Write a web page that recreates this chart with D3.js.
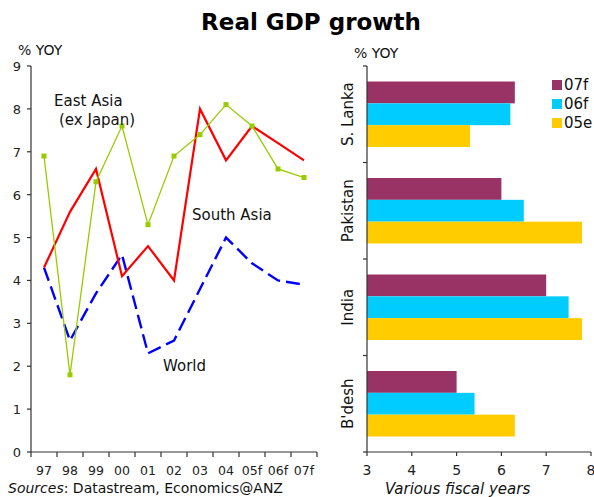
<!DOCTYPE html>
<html>
<head>
<meta charset="utf-8">
<script src="https://cdn.jsdelivr.net/npm/d3@7"></script>
<style>
  html, body { margin: 0; padding: 0; background: #fff; }
  svg { display: block; font-family: "DejaVu Sans", Verdana, sans-serif; }
</style>
</head>
<body>
<svg id="chart" width="594" height="497"></svg>
<script>
// ---- Data ----
const years = ["97","98","99","00","01","02","03","04","05f","06f","07f"];
const eastAsia  = [6.9, 1.8, 6.3, 7.6, 5.3, 6.9, 7.4, 8.1, 7.6, 6.6, 6.4];
const southAsia = [4.3, 5.6, 6.6, 4.1, 4.8, 4.0, 8.0, 6.8, 7.6, 7.2, 6.8];
const world     = [4.3, 2.6, 3.7, 4.6, 2.3, 2.6, 3.8, 5.0, 4.4, 4.0, 3.9];
const leftTicks = [0,1,2,3,4,5,6,7,8,9];

const countries = ["S. Lanka", "Pakistan", "India", "B'desh"];
const seriesNames = ["07f", "06f", "05e"];
const fy07 = [6.3, 6.0, 7.0, 5.0];
const fy06 = [6.2, 6.5, 7.5, 5.4];
const fy05 = [5.3, 7.8, 7.8, 6.3];
const rightTicks = [3,4,5,6,7,8];

const seriesColors = ["#993366", "#00CCFF", "#FFCC00"];

const svg = d3.select("#chart");
const axisColor = "#333";

// Title
svg.append("text").attr("x", 311).attr("y", 30).attr("text-anchor", "middle")
  .attr("font-size", 23).attr("font-weight", "bold").attr("fill", "#000").text("Real GDP growth");

// ---- Left chart ----
const xL = d3.scaleBand().domain(years).range([31, 317]).padding(0);
const yL = d3.scaleLinear().domain([0, 9]).range([452, 66]);

const gL = svg.append("g");
gL.append("line").attr("x1", 31).attr("x2", 31).attr("y1", yL(9)).attr("y2", yL(0))
  .attr("stroke", axisColor).attr("stroke-width", 1.2);
leftTicks.forEach(t => {
  gL.append("line").attr("x1", 27).attr("x2", 31).attr("y1", yL(t)).attr("y2", yL(t))
    .attr("stroke", axisColor).attr("stroke-width", 1.2);
  gL.append("text").attr("x", 21).attr("y", yL(t) + 5).attr("text-anchor", "end")
    .attr("font-size", 13).attr("fill", "#222").text(t);
});
gL.append("line").attr("x1", 31).attr("x2", 317).attr("y1", yL(0)).attr("y2", yL(0))
  .attr("stroke", axisColor).attr("stroke-width", 1.2);
years.forEach((c, i) => {
  const x0 = xL(c);
  gL.append("line").attr("x1", x0).attr("x2", x0).attr("y1", yL(0)).attr("y2", yL(0) + 5)
    .attr("stroke", axisColor).attr("stroke-width", 1.2);
  gL.append("text").attr("x", x0 + xL.bandwidth() / 2).attr("y", 475).attr("text-anchor", "middle")
    .attr("font-size", 12.5).attr("fill", "#222").text(c);
});
gL.append("line").attr("x1", 317).attr("x2", 317).attr("y1", yL(0)).attr("y2", yL(0) + 5)
  .attr("stroke", axisColor).attr("stroke-width", 1.2);

const cx = c => xL(c) + xL.bandwidth() / 2;
const lineGen = d3.line().x((d, i) => cx(years[i])).y(d => yL(d));

gL.append("path").attr("d", lineGen(world)).attr("fill", "none")
  .attr("stroke", "#0000FF").attr("stroke-width", 2.4).attr("stroke-dasharray", "14,6");
gL.append("path").attr("d", lineGen(southAsia)).attr("fill", "none")
  .attr("stroke", "#FF0000").attr("stroke-width", 2.2);
gL.append("path").attr("d", lineGen(eastAsia)).attr("fill", "none")
  .attr("stroke", "#99CC00").attr("stroke-width", 1.3);
gL.selectAll("rect.m").data(eastAsia).enter().append("rect")
  .attr("x", (d, i) => cx(years[i]) - 2.5).attr("y", d => yL(d) - 2.5)
  .attr("width", 5).attr("height", 5).attr("fill", "#99CC00");

const lbl = (x, y, t) => svg.append("text").attr("x", x).attr("y", y)
  .attr("font-size", 15).attr("fill", "#111").text(t);
lbl(54, 106, "East Asia");
lbl(59, 125, "(ex Japan)");
lbl(192, 220, "South Asia");
lbl(163, 371, "World");
svg.append("text").attr("x", 18).attr("y", 55).attr("font-size", 14).attr("fill", "#111").text("% YOY");

svg.append("text").attr("x", 8).attr("y", 493).attr("font-size", 14).attr("fill", "#111")
  .call(t => {
    t.append("tspan").attr("font-style", "italic").text("Sources");
    t.append("tspan").text(": Datastream, Economics@ANZ");
  });

// ---- Right chart ----
const xR = d3.scaleLinear().domain([3, 8]).range([367, 591]);
const yR = d3.scaleBand().domain(countries).range([66, 452]).padding(0);
const yS = d3.scaleBand().domain(seriesNames).range([15.5, yR.bandwidth() - 15.5]).padding(0);
const gR = svg.append("g");

const values = [fy07, fy06, fy05];
countries.forEach((c, ci) => {
  seriesNames.forEach((s, si) => {
    gR.append("rect").attr("x", xR(3)).attr("y", yR(c) + yS(s))
      .attr("width", xR(values[si][ci]) - xR(3)).attr("height", yS.bandwidth())
      .attr("fill", seriesColors[si]);
  });
  const cy = yR(c) + yR.bandwidth() / 2;
  gR.append("text").attr("transform", `translate(353,${cy}) rotate(-90)`)
    .attr("text-anchor", "middle").attr("font-size", 15).attr("fill", "#111").text(c);
});

gR.append("line").attr("x1", 367).attr("x2", 367).attr("y1", 66).attr("y2", 452)
  .attr("stroke", axisColor).attr("stroke-width", 1.2);
countries.forEach(c => {
  gR.append("line").attr("x1", 363).attr("x2", 367).attr("y1", yR(c)).attr("y2", yR(c))
    .attr("stroke", axisColor).attr("stroke-width", 1.2);
});
gR.append("line").attr("x1", 363).attr("x2", 367).attr("y1", 452).attr("y2", 452)
  .attr("stroke", axisColor).attr("stroke-width", 1.2);
gR.append("line").attr("x1", 367).attr("x2", 591).attr("y1", 452).attr("y2", 452)
  .attr("stroke", axisColor).attr("stroke-width", 1.2);
rightTicks.forEach(t => {
  gR.append("line").attr("x1", xR(t)).attr("x2", xR(t)).attr("y1", 452).attr("y2", 456)
    .attr("stroke", axisColor).attr("stroke-width", 1.2);
  gR.append("text").attr("x", xR(t)).attr("y", 475).attr("text-anchor", "middle")
    .attr("font-size", 14).attr("fill", "#222").text(t);
});
svg.append("text").attr("x", 385).attr("y", 494).attr("font-size", 15)
  .attr("font-style", "italic").attr("fill", "#111").text("Various fiscal years");
svg.append("text").attr("x", 354).attr("y", 58).attr("font-size", 14).attr("fill", "#111").text("% YOY");

seriesNames.forEach((s, i) => {
  const y = 80 + i * 19;
  svg.append("rect").attr("x", 552).attr("y", y).attr("width", 10).attr("height", 10)
    .attr("fill", seriesColors[i]);
  svg.append("text").attr("x", 564).attr("y", y + 10).attr("font-size", 15).attr("fill", "#111").text(s);
});
</script>
</body>
</html>
